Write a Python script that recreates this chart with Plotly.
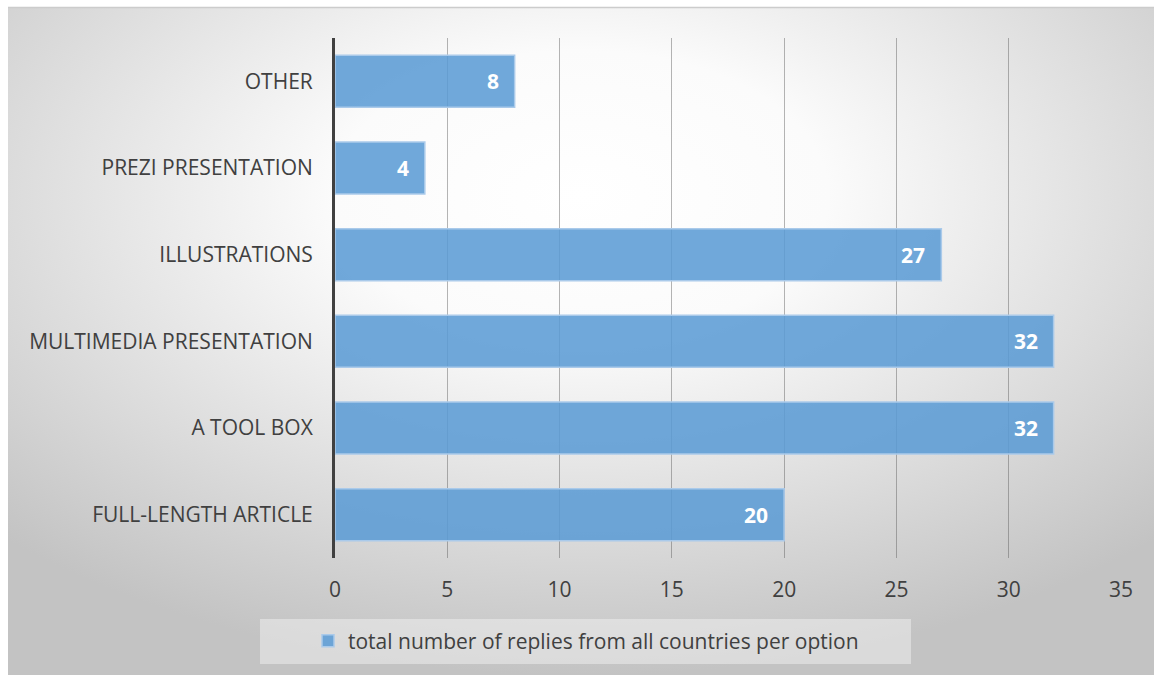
import base64
import plotly.graph_objects as go

# ---- data (bottom to top, as plotted) ----
categories = ["FULL-LENGTH ARTICLE", "A TOOL BOX", "MULTIMEDIA PRESENTATION",
              "ILLUSTRATIONS", "PREZI PRESENTATION", "OTHER"]
values = [20, 32, 32, 27, 4, 8]
series_name = "total number of replies from all countries per option"
x_ticks = [0, 5, 10, 15, 20, 25, 30, 35]

W, H = 1154, 675
L, R, T, B = 335, 33, 38, 117
PW, PH = W - L - R, H - T - B

def px_x(p):
    return (p - L) / PW

def px_y(p):
    return 1 - (p - T) / PH

FONT = "Open Sans"
FS = 21
TXT = "#404040"

# radial gradient background as SVG image
svg = (
    '<svg xmlns="http://www.w3.org/2000/svg" width="1146" height="667" '
    'viewBox="0 0 1146 667" preserveAspectRatio="none">'
    '<defs><radialGradient id="g" cx="0.5" cy="0.28" r="0.72">'
    '<stop offset="0" stop-color="#ffffff"/>'
    '<stop offset="0.3" stop-color="#fbfbfb"/>'
    '<stop offset="1" stop-color="#c3c3c3"/>'
    '</radialGradient></defs>'
    '<rect width="1146" height="667" fill="url(#g)"/></svg>'
)
src = "data:image/svg+xml;base64," + base64.b64encode(svg.encode()).decode()

fig = go.Figure()
fig.add_trace(go.Bar(
    y=categories, x=values, orientation="h", name=series_name,
    marker=dict(color="rgba(91,155,213,0.87)",
                line=dict(color="rgba(170,202,234,1)", width=1.5)),
    width=0.6, showlegend=True, hoverinfo="x+y",
))

annotations = []
for c, v in zip(categories, values):
    annotations.append(dict(
        x=v, y=c, xref="x", yref="y", text=f"<b>{v}</b>", showarrow=False,
        xanchor="right", yanchor="middle", xshift=-14,
        font=dict(family=FONT, size=FS, color="white"),
    ))

fig.update_layout(
    width=W, height=H,
    margin=dict(l=L, r=R, t=T, b=B, pad=0),
    paper_bgcolor="white",
    plot_bgcolor="rgba(0,0,0,0)",
    font=dict(family=FONT, size=FS, color=TXT),
    bargap=0.4,
    images=[dict(
        source=src, xref="paper", yref="paper",
        x=px_x(8), y=px_y(8), sizex=(W - 8) / PW, sizey=(H - 8) / PH,
        xanchor="left", yanchor="top", sizing="stretch", layer="below",
    )],
    shapes=[
        dict(type="line", xref="paper", yref="paper",
             x0=px_x(8), x1=px_x(W), y0=px_y(7.5), y1=px_y(7.5),
             line=dict(color="#cccccc", width=1.5)),
        dict(type="rect", xref="paper", yref="paper",
             x0=px_x(260), x1=px_x(911), y0=px_y(619), y1=px_y(664),
             fillcolor="rgba(242,242,242,0.5)", line=dict(width=0), layer="below"),
    ],
    annotations=annotations,
    xaxis=dict(
        range=[0, 35], tickvals=x_ticks, showgrid=True,
        gridcolor="rgba(90,90,90,0.45)", gridwidth=1.2, zeroline=False,
        showline=False, ticks="", ticklabelstandoff=17,
        tickfont=dict(family=FONT, size=FS, color=TXT), fixedrange=True,
    ),
    yaxis=dict(
        categoryorder="array", categoryarray=categories,
        showline=True, linecolor="#404040", linewidth=3, ticks="",
        ticklabelstandoff=15, showgrid=False, zeroline=False,
        tickfont=dict(family=FONT, size=FS, color=TXT), fixedrange=True,
    ),
    legend=dict(
        orientation="h", x=px_x(308), y=px_y(641), xanchor="left", yanchor="middle",
        bgcolor="rgba(0,0,0,0)", font=dict(family=FONT, size=FS, color=TXT),
    ),
)

fig.write_html("out.html")
